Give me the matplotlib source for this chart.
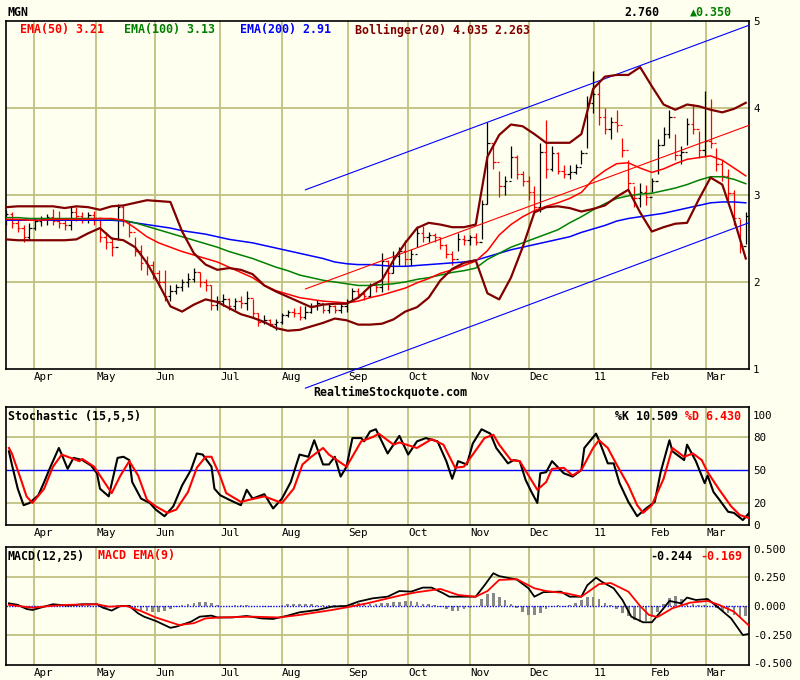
import numpy as np
import matplotlib
matplotlib.use('Agg')
import matplotlib.pyplot as plt

# x axis is trading-day index; months start at these days
months = ['Apr', 'May', 'Jun', 'Jul', 'Aug', 'Sep', 'Oct', 'Nov', 'Dec', '11', 'Feb', 'Mar']
month_days = [9.5, 30.7, 50.8, 72.9, 94.0, 116.5, 137.0, 158.0, 178.2, 200.3, 219.8, 238.5]

# price bars, one every 2 trading days
hi = [2.83, 2.80, 2.72, 2.66, 2.68, 2.74, 2.76, 2.78, 2.84, 2.82,
      2.74, 2.86, 2.86, 2.80, 2.80, 2.82, 2.72, 2.58, 2.52, 2.90,
      2.88, 2.70, 2.52, 2.42, 2.30, 2.24, 2.14, 2.14, 1.96, 1.98,
      2.04, 2.10, 2.16, 2.12, 2.04, 1.96, 1.84, 1.86, 1.82, 1.82,
      1.84, 1.90, 1.80, 1.64, 1.62, 1.58, 1.58, 1.64, 1.68, 1.70,
      1.72, 1.72, 1.76, 1.79, 1.76, 1.76, 1.74, 1.76, 1.80, 1.93,
      1.93, 1.91, 1.99, 2.00, 2.33, 2.25, 2.36, 2.40, 2.48, 2.38,
      2.64, 2.64, 2.58, 2.56, 2.52, 2.44, 2.36, 2.56, 2.54, 2.54,
      2.56, 2.94, 3.84, 3.60, 3.28, 3.22, 3.56, 3.46, 3.28, 3.22,
      3.10, 3.60, 3.86, 3.56, 3.50, 3.34, 3.34, 3.36, 3.52, 4.14,
      4.42, 4.30, 4.00, 3.90, 3.98, 3.66, 3.40, 3.10, 3.14, 3.12,
      3.20, 3.64, 3.78, 3.98, 3.70, 3.56, 3.88, 4.05, 3.74, 4.19,
      4.10, 3.54, 3.40, 3.30, 3.06, 2.72, 2.80]
lo = [2.66, 2.62, 2.58, 2.46, 2.50, 2.60, 2.64, 2.66, 2.66, 2.62,
      2.60, 2.60, 2.70, 2.68, 2.68, 2.66, 2.46, 2.38, 2.30, 2.48,
      2.64, 2.52, 2.30, 2.14, 2.08, 2.04, 1.94, 1.78, 1.78, 1.86,
      1.90, 1.94, 2.00, 1.94, 1.90, 1.68, 1.68, 1.72, 1.68, 1.68,
      1.70, 1.68, 1.60, 1.49, 1.52, 1.49, 1.45, 1.52, 1.60, 1.60,
      1.56, 1.58, 1.64, 1.68, 1.64, 1.64, 1.64, 1.64, 1.66, 1.79,
      1.82, 1.79, 1.83, 1.89, 1.89, 1.91, 2.10, 2.20, 2.18, 2.18,
      2.40, 2.46, 2.46, 2.46, 2.38, 2.28, 2.20, 2.36, 2.42, 2.42,
      2.42, 2.50, 2.90, 3.30, 2.98, 3.00, 3.20, 3.18, 3.10, 2.94,
      2.80, 2.80, 3.20, 3.28, 3.24, 3.20, 3.18, 3.24, 3.36, 3.54,
      3.94, 3.80, 3.70, 3.64, 3.72, 3.44, 3.06, 2.86, 2.86, 2.88,
      3.04, 3.24, 3.58, 3.66, 3.40, 3.36, 3.58, 3.70, 3.42, 3.44,
      3.54, 3.28, 3.16, 2.94, 2.66, 2.33, 2.44]
cl = [2.78, 2.68, 2.62, 2.52, 2.62, 2.70, 2.72, 2.75, 2.70, 2.68,
      2.66, 2.80, 2.76, 2.74, 2.77, 2.74, 2.52, 2.46, 2.40, 2.86,
      2.70, 2.58, 2.36, 2.22, 2.20, 2.10, 2.00, 1.84, 1.90, 1.94,
      2.00, 2.04, 2.12, 2.00, 1.96, 1.74, 1.78, 1.80, 1.72, 1.78,
      1.76, 1.82, 1.64, 1.54, 1.56, 1.52, 1.54, 1.62, 1.66, 1.64,
      1.60, 1.66, 1.72, 1.76, 1.68, 1.72, 1.68, 1.72, 1.78, 1.90,
      1.86, 1.84, 1.96, 1.94, 2.24, 2.10, 2.30, 2.36, 2.26, 2.32,
      2.56, 2.52, 2.54, 2.52, 2.42, 2.32, 2.26, 2.50, 2.48, 2.52,
      2.46, 2.90, 3.60, 3.38, 3.10, 3.16, 3.44, 3.24, 3.16, 3.04,
      2.86, 3.50, 3.30, 3.48, 3.28, 3.24, 3.26, 3.32, 3.48, 4.06,
      4.16, 3.90, 3.76, 3.84, 3.80, 3.52, 3.14, 2.96, 3.04, 2.98,
      3.16, 3.58, 3.70, 3.90, 3.46, 3.50, 3.82, 3.76, 3.52, 3.62,
      3.60, 3.36, 3.22, 3.02, 2.74, 2.41, 2.76]

# overlay lines, one value every 4 trading days
ema50 = [2.72, 2.72, 2.71, 2.71, 2.72, 2.72, 2.72, 2.72, 2.73, 2.73,
         2.71, 2.62, 2.52, 2.45, 2.40, 2.35, 2.31, 2.27, 2.23, 2.17,
         2.11, 2.05, 1.96, 1.90, 1.86, 1.82, 1.80, 1.78, 1.77, 1.76,
         1.78, 1.82, 1.85, 1.89, 1.93, 1.99, 2.04, 2.10, 2.14, 2.19,
         2.24, 2.36, 2.54, 2.66, 2.75, 2.82, 2.87, 2.91, 2.96, 3.03,
         3.18, 3.28, 3.36, 3.37, 3.31, 3.26, 3.30, 3.36, 3.41, 3.43,
         3.45, 3.40, 3.31, 3.22]
ema100 = [2.74, 2.74, 2.73, 2.73, 2.73, 2.73, 2.73, 2.73, 2.73, 2.72,
          2.71, 2.68, 2.64, 2.60, 2.56, 2.52, 2.48, 2.44, 2.40, 2.35,
          2.31, 2.27, 2.22, 2.17, 2.13, 2.08, 2.05, 2.02, 2.00, 1.98,
          1.96, 1.96, 1.97, 1.98, 2.00, 2.03, 2.05, 2.08, 2.11, 2.13,
          2.16, 2.26, 2.33, 2.40, 2.45, 2.50, 2.55, 2.60, 2.68, 2.75,
          2.83, 2.90, 2.96, 2.99, 3.01, 3.02, 3.05, 3.08, 3.12, 3.17,
          3.21, 3.21, 3.18, 3.13]
ema200 = [2.71, 2.71, 2.71, 2.71, 2.71, 2.71, 2.71, 2.71, 2.71, 2.71,
          2.70, 2.68, 2.66, 2.64, 2.62, 2.59, 2.57, 2.55, 2.52, 2.49,
          2.47, 2.45, 2.42, 2.39, 2.36, 2.33, 2.30, 2.27, 2.23, 2.21,
          2.20, 2.20, 2.19, 2.18, 2.18, 2.19, 2.20, 2.21, 2.22, 2.23,
          2.25, 2.29, 2.33, 2.37, 2.40, 2.43, 2.46, 2.49, 2.52, 2.57,
          2.61, 2.65, 2.70, 2.73, 2.75, 2.77, 2.79, 2.82, 2.85, 2.88,
          2.91, 2.92, 2.92, 2.91]
bb_up = [2.86, 2.87, 2.87, 2.87, 2.87, 2.85, 2.87, 2.86, 2.83, 2.87,
         2.88, 2.91, 2.94, 2.93, 2.92, 2.58, 2.33, 2.20, 2.14, 2.16,
         2.14, 2.09, 1.96, 1.89, 1.83, 1.77, 1.71, 1.74, 1.75, 1.75,
         1.82, 1.95, 2.02, 2.25, 2.45, 2.62, 2.68, 2.66, 2.63, 2.63,
         2.66, 3.44, 3.69, 3.81, 3.79, 3.70, 3.60, 3.60, 3.60, 3.70,
         4.22, 4.36, 4.38, 4.38, 4.47, 4.25, 4.04, 3.98, 4.04, 4.02,
         3.98, 3.95, 3.99, 4.06]
bb_lo = [2.49, 2.48, 2.48, 2.48, 2.48, 2.48, 2.49, 2.56, 2.62, 2.50,
         2.48, 2.40, 2.22, 1.98, 1.72, 1.66, 1.74, 1.80, 1.77, 1.70,
         1.63, 1.59, 1.54, 1.47, 1.44, 1.45, 1.49, 1.53, 1.58, 1.56,
         1.51, 1.51, 1.52, 1.57, 1.66, 1.71, 1.82, 2.02, 2.15, 2.22,
         2.25, 1.87, 1.80, 2.05, 2.40, 2.80, 2.86, 2.87, 2.85, 2.81,
         2.84, 2.88, 2.98, 3.06, 2.80, 2.58, 2.63, 2.67, 2.68, 2.95,
         3.20, 3.12, 2.72, 2.27]

# trend channel
ch_days = [102, 253]
ch_up = [3.06, 4.95]
ch_mid = [1.92, 3.80]
ch_lo = [0.78, 2.68]

# stochastic (15,5,5)
k_day = [1, 2, 4, 6, 8, 11, 13, 15, 18, 19, 21, 23, 26, 29, 31, 32, 35, 38, 40, 42,
         43, 46, 49, 51, 54, 57, 60, 63, 65, 67, 70, 71, 73, 76, 80, 82, 84, 88, 91, 94,
         97, 100, 103, 105, 108, 110, 112, 114, 116, 118, 121, 122, 124, 126, 130, 134, 137, 140, 143, 147,
         150, 152, 154, 157, 159, 162, 165, 167, 171, 173, 175, 177, 179, 181, 182, 184, 186, 190, 193, 196,
         197, 201, 202, 205, 207, 209, 212, 215, 218, 221, 223, 226, 227, 231, 232, 235, 238, 239, 241, 243,
         246, 248, 251, 253]
k_val = [67, 55, 33, 18, 20, 27, 39, 52, 70, 64, 51, 61, 59, 54, 47, 33, 26, 61, 62, 59,
         39, 24, 20, 14, 8, 17, 36, 50, 65, 64, 53, 33, 27, 23, 18, 32, 24, 28, 15, 24,
         39, 64, 62, 77, 55, 55, 62, 44, 53, 79, 79, 76, 85, 87, 65, 81, 64, 76, 79, 76,
         58, 42, 58, 55, 74, 87, 83, 70, 56, 59, 58, 41, 30, 20, 47, 48, 58, 47, 44, 50,
         70, 83, 77, 56, 56, 38, 21, 8, 15, 21, 48, 77, 67, 59, 73, 58, 38, 45, 30, 23,
         12, 11, 4.5, 10.5]
d_day = [1, 2, 5, 7, 9, 13, 16, 19, 22, 25, 26, 30, 33, 36, 39, 42, 45, 48, 51, 55,
         58, 62, 65, 68, 70, 73, 75, 80, 83, 88, 91, 94, 98, 101, 104, 108, 110, 116, 121, 125,
         127, 132, 134, 140, 145, 149, 153, 156, 159, 163, 166, 168, 172, 175, 178, 181, 184, 186, 190, 193,
         196, 200, 202, 205, 208, 212, 215, 217, 220, 224, 227, 231, 234, 237, 239, 243, 247, 250, 253]
d_val = [70, 65, 42, 26, 20, 33, 53, 64, 61, 58, 60, 53, 41, 29, 45, 58, 45, 23, 17, 11,
         14, 30, 52, 62, 62, 44, 29, 21, 23, 26, 23, 20, 33, 55, 62, 70, 64, 53, 76, 80,
         83, 73, 75, 70, 78, 73, 52, 53, 64, 79, 82, 73, 59, 58, 45, 32, 39, 51, 52, 45,
         50, 70, 77, 70, 55, 36, 18, 11, 18, 42, 70, 62, 65, 59, 48, 32, 17, 9, 6.4]

# MACD(12,25) and its EMA(9)
m_day = [1, 4, 7, 9, 13, 16, 21, 26, 31, 33, 36, 39, 42, 45, 47, 51, 56, 58, 63, 66,
         70, 72, 77, 82, 87, 91, 96, 100, 106, 111, 116, 120, 125, 130, 134, 138, 142, 145, 149, 151,
         157, 160, 163, 166, 168, 174, 178, 180, 183, 189, 192, 196, 198, 201, 203, 207, 210, 213, 217, 220,
         224, 226, 230, 232, 235, 239, 242, 247, 251, 253]
m_val = [0.023, 0.01, -0.026, -0.035, -0.006, 0.015, 0.003, 0.015, 0.015, -0.015,
         -0.04, 0.0, 0.0, -0.064, -0.093, -0.13, -0.19, -0.18, -0.137, -0.093,
         -0.084, -0.1, -0.1, -0.087, -0.108, -0.113, -0.084, -0.055, -0.035, -0.006,
         0.0, 0.038, 0.067, 0.081, 0.13, 0.125, 0.16, 0.16, 0.11, 0.081,
         0.081, 0.081, 0.18, 0.285, 0.26, 0.23, 0.154, 0.081, 0.12, 0.125,
         0.081, 0.081, 0.18, 0.247, 0.21, 0.154, 0.052, -0.093, -0.142, -0.142,
         -0.02, 0.044, 0.023, 0.073, 0.052, 0.061, 0.0, -0.108, -0.253, -0.244]
s_day = [1, 9, 15, 21, 31, 35, 41, 46, 51, 59, 64, 68, 73, 84, 93, 100, 111, 116, 123, 134,
         140, 148, 154, 160, 164, 168, 174, 180, 184, 191, 196, 202, 206, 212, 216, 219, 222, 227, 233, 239,
         243, 248, 253]
s_val = [0.01, -0.015, 0.0, 0.01, 0.015, -0.006, 0.0, -0.044, -0.1, -0.166,
         -0.15, -0.108, -0.1, -0.093, -0.1, -0.078, -0.035, -0.012, 0.023, 0.09,
         0.12, 0.148, 0.096, 0.081, 0.13, 0.227, 0.233, 0.154, 0.13, 0.11,
         0.081, 0.19, 0.2, 0.125, 0.0, -0.078, -0.096, -0.02, 0.029, 0.044,
         0.009, -0.05, -0.169]
# histogram, one bar every 2 trading days
hist = [0.01, 0.01, 0.01, -0.01, -0.015, -0.015, -0.005, 0.005, 0.008, 0.01,
        0.008, 0.006, 0.008, 0.008, 0.006, 0.0, -0.01, -0.015, -0.01, 0.01,
        0.012, 0.005, -0.02, -0.035, -0.045, -0.05, -0.05, -0.045, -0.03, -0.01,
        0.01, 0.02, 0.03, 0.035, 0.033, 0.025, 0.01, 0.004, 0.002, 0.005,
        0.01, 0.008, 0.0, -0.004, -0.005, -0.005, -0.003, 0.008, 0.015, 0.02,
        0.02, 0.015, 0.015, 0.012, 0.01, 0.01, 0.008, 0.005, 0.01, 0.02,
        0.025, 0.025, 0.02, 0.02, 0.025, 0.03, 0.035, 0.035, 0.04, 0.04,
        0.035, 0.02, 0.015, 0.01, -0.01, -0.025, -0.04, -0.044, -0.03, -0.015,
        0.0, 0.06, 0.1, 0.11, 0.08, 0.05, 0.02, -0.02, -0.05, -0.075,
        -0.08, -0.06, -0.03, -0.01, 0.005, -0.005, 0.01, 0.025, 0.05, 0.075,
        0.08, 0.06, 0.03, 0.005, -0.03, -0.06, -0.09, -0.12, -0.14, -0.13,
        -0.1, -0.05, 0.02, 0.07, 0.09, 0.06, 0.03, 0.02, 0.01, 0.005,
        0.0, -0.02, -0.04, -0.06, -0.08, -0.1, -0.085]

BG = '#fffff0'
GRID = '#c0c080'
plt.rcParams['font.family'] = ['DejaVu Sans Mono', 'DejaVu Sans']

W, H = 800, 680
fig = plt.figure(figsize=(W / 100, H / 100), dpi=100, facecolor=BG)


def box(top, bottom):
    return [6 / W, 1 - bottom / H, 743 / W, (bottom - top) / H]


def ftext(px, py, s, color='black', ha='left', size=8.4, weight='bold'):
    fig.text(px / W, 1 - py / H, s, color=color, ha=ha, va='center',
             fontsize=size, fontweight=weight)


ax1 = fig.add_axes(box(21, 369))
ax2 = fig.add_axes(box(406.7, 525))
ax3 = fig.add_axes(box(547.3, 665))

for ax in (ax1, ax2, ax3):
    ax.set_facecolor(BG)
    ax.set_xlim(0, 253.1)
    ax.set_xticks([])
    for m in month_days:
        ax.axvline(m, color=GRID, lw=1.3, zorder=0)
    for s in ax.spines.values():
        s.set_color('black')
        s.set_linewidth(1.2)
    for name, m in zip(months, month_days):
        ax.annotate(name, xy=(m, 0), xycoords=('data', 'axes fraction'),
                    xytext=(0, -2.5), textcoords='offset points',
                    ha='left', va='top', fontsize=7.8)
    ax.yaxis.tick_right()
    ax.tick_params(axis='y', length=0, pad=3, labelsize=7.8)

# price panel
ax1.set_ylim(1, 5)
ax1.set_yticks([1, 2, 3, 4, 5])
ax1.set_yticklabels(['1', '2', '3', '4', '5'])
for v in (2, 3, 4):
    ax1.axhline(v, color=GRID, lw=1.3, zorder=0)

bar_days = np.arange(len(cl)) * 2
cl_a = np.array(cl)
prev = np.r_[cl_a[0], cl_a[:-1]]
bar_col = np.where(cl_a < prev, '#ff0000', '#000000')
ax1.vlines(bar_days, lo, hi, colors=bar_col, lw=0.9, zorder=2)
ax1.hlines(cl_a, bar_days, bar_days + 0.8, colors=bar_col, lw=0.9, zorder=2)
ax1.hlines(prev, bar_days - 0.8, bar_days, colors=bar_col, lw=0.9, zorder=2)

line_days = np.arange(len(ema50)) * 4
ax1.plot(line_days, ema200, color='#0000ff', lw=1.1, zorder=3)
ax1.plot(line_days, ema100, color='#008000', lw=1.1, zorder=3)
ax1.plot(line_days, ema50, color='#ff0000', lw=1.1, zorder=3)
ax1.plot(ch_days, ch_up, color='#0000ff', lw=0.8, zorder=3)
ax1.plot(ch_days, ch_mid, color='#ff0000', lw=0.8, zorder=3)
ax1.plot(ch_days, ch_lo, color='#0000ff', lw=0.8, zorder=3, clip_on=False)
ax1.plot(line_days, bb_up, color='#800000', lw=1.6, zorder=4)
ax1.plot(line_days, bb_lo, color='#800000', lw=1.6, zorder=4)

# stochastic panel
ax2.set_ylim(0, 107.5)
ax2.set_yticks([0, 20, 50, 80, 100])
ax2.set_yticklabels(['0', '20', '50', '80', '100'])
for v in (20, 80):
    ax2.axhline(v, color=GRID, lw=1.3, zorder=0)
ax2.axhline(50, color='#0000ff', lw=1.0, zorder=1)
ax2.plot(k_day, k_val, color='black', lw=1.5, zorder=3)
ax2.plot(d_day, d_val, color='#ff0000', lw=1.5, zorder=3)

# MACD panel
ax3.set_ylim(-0.514, 0.511)
ax3.set_yticks([-0.5, -0.25, 0, 0.25, 0.5])
ax3.set_yticklabels(['-0.500', '-0.250', '0.000', '0.250', '0.500'])
for v in (-0.25, 0.25):
    ax3.axhline(v, color=GRID, lw=1.3, zorder=0)
hist_days = np.arange(len(hist)) * 2
ax3.bar(hist_days, hist, width=0.9, color='#888888', zorder=1)
ax3.axhline(0, color='#0000ff', lw=1.0, ls=(0, (1, 1)), zorder=2)
ax3.plot(m_day, m_val, color='black', lw=1.3, zorder=3)
ax3.plot(s_day, s_val, color='#ff0000', lw=1.3, zorder=3)

# texts
ftext(8, 12, 'MGN')
ftext(659, 12, '2.760', ha='right')
ftext(690, 12, '\u25b20.350', color='#008000')
ftext(20, 30, 'EMA(50) 3.21', color='#ff0000')
ftext(124, 30, 'EMA(100) 3.13', color='#008000')
ftext(240, 30, 'EMA(200) 2.91', color='#0000ff')
ftext(355, 30, 'Bollinger(20) 4.035 2.263', color='#800000')
ftext(313, 392, 'RealtimeStockquote.com')
ftext(8, 416, 'Stochastic (15,5,5)')
ftext(615, 416, '%K 10.509')
ftext(685, 416, '%D 6.430', color='#ff0000')
ftext(8, 556, 'MACD(12,25)')
ftext(98, 556, 'MACD EMA(9)', color='#ff0000')
ftext(650, 556, '-0.244')
ftext(700, 556, '-0.169', color='#ff0000')

fig.savefig('out.png', dpi=100, facecolor=BG)
